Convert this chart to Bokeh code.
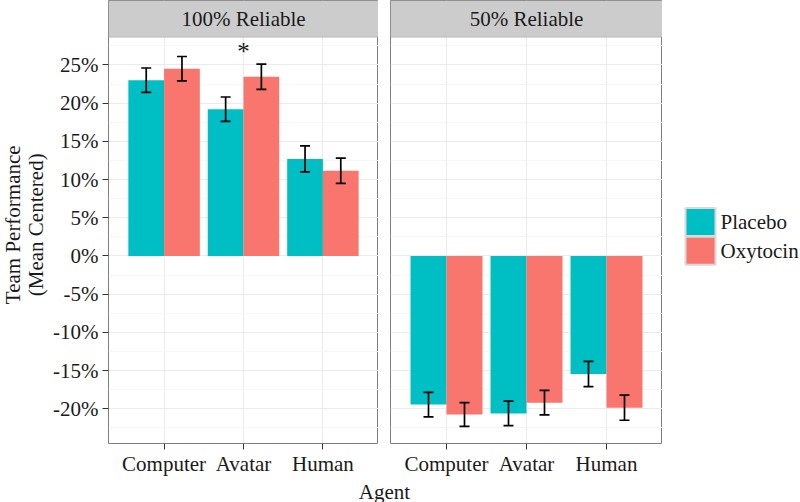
import math
from bokeh.plotting import figure
from bokeh.models import (FactorRange, Range1d, FixedTicker, Whisker, TeeHead,
                          ColumnDataSource, BoxAnnotation, Label)
from bokeh.transform import dodge
from bokeh.layouts import row, column
from bokeh.embed import file_html
from bokeh.resources import INLINE
from bokeh.core.properties import value

# ---------------- data ----------------
agents = ["Computer", "Avatar", "Human"]
facets = ["100% Reliable", "50% Reliable"]
groups = ["Placebo", "Oxytocin"]

placebo_100 = [23.0, 19.2, 12.7]
placebo_100_se = [1.6, 1.6, 1.7]
oxytocin_100 = [24.5, 23.45, 11.15]
oxytocin_100_se = [1.6, 1.65, 1.65]

placebo_50 = [-19.45, -20.6, -15.45]
placebo_50_se = [1.6, 1.6, 1.65]
oxytocin_50 = [-20.75, -19.2, -19.85]
oxytocin_50_se = [1.55, 1.6, 1.65]

y_ticks = [-20, -15, -10, -5, 0, 5, 10, 15, 20, 25]
y_tick_labels = ["-20%", "-15%", "-10%", "-5%", "0%", "5%", "10%", "15%", "20%", "25%"]
sig_agents = ["Avatar"]
sig_labels = ["*"]
y_title_lines = ["Team Performance", "(Mean Centered)"]
x_title = "Agent"

# ---------------- style / layout ----------------
TEAL = "#00BFC4"
SALMON = "#F8766D"
group_colors = [TEAL, SALMON]
FONT = "Liberation Serif"
FS = "21px"
TXT = "#1A1A1A"
BORDER = "#7F7F7F"
Y_LO, Y_HI, STRIP_BOTTOM = -24.54, 33.43, 28.63
FIG_H = 478
FRAME_H = 447
FRAME_W = 272
YLAB_W = 50
LEFT_B = 106 - YLAB_W
GAP = 12
LEG_W = 138

y_range = Range1d(Y_LO, Y_HI)
y_minor = [y_ticks[0] - 2.5] + [t + 2.5 for t in y_ticks]


def plain_fig(w, h):
    f = figure(width=w, height=h, x_range=Range1d(0, w), y_range=Range1d(0, h),
               toolbar_location=None, output_backend="svg",
               min_border_left=0, min_border_right=0, min_border_top=0, min_border_bottom=0)
    f.axis.visible = False
    f.grid.visible = False
    f.outline_line_color = None
    return f


def make_panel(title, plac, plac_se, oxy, oxy_se, first, sig=False):
    x_range = FactorRange(*agents, range_padding=0.2, range_padding_units="absolute")
    mbl = LEFT_B if first else GAP
    p = figure(width=mbl + FRAME_W, height=FIG_H, x_range=x_range, y_range=y_range,
               toolbar_location=None, output_backend="svg",
               min_border_left=mbl, min_border_right=0,
               min_border_top=0, min_border_bottom=FIG_H - FRAME_H)
    src = ColumnDataSource(dict(
        agent=agents, placebo=plac, oxy=oxy,
        p_up=[v + e for v, e in zip(plac, plac_se)],
        p_lo=[v - e for v, e in zip(plac, plac_se)],
        o_up=[v + e for v, e in zip(oxy, oxy_se)],
        o_lo=[v - e for v, e in zip(oxy, oxy_se)],
    ))
    p.vbar(x=dodge("agent", -0.225, range=p.x_range), top="placebo", bottom=0,
           width=0.45, fill_color=TEAL, line_color=None, source=src)
    p.vbar(x=dodge("agent", 0.225, range=p.x_range), top="oxy", bottom=0,
           width=0.45, fill_color=SALMON, line_color=None, source=src)
    for off, up, lo in [(-0.225, "p_up", "p_lo"), (0.225, "o_up", "o_lo")]:
        w = Whisker(source=src, base=dodge("agent", off, range=p.x_range),
                    upper=up, lower=lo, line_color="black", line_width=1.7,
                    level="overlay",
                    upper_head=TeeHead(size=10, line_color="black", line_width=1.7),
                    lower_head=TeeHead(size=10, line_color="black", line_width=1.7))
        p.add_layout(w)

    if sig:
        sy = []
        for a in sig_agents:
            i = agents.index(a)
            sy.append(max(src.data["p_up"][i], src.data["o_up"][i]) + 1.6)
        p.text(x=sig_agents, y=sy, text=sig_labels, text_align="center",
               text_baseline="alphabetic", text_font=value(FONT),
               text_font_size="25px", text_color=TXT)

    # facet strip
    p.add_layout(BoxAnnotation(bottom=STRIP_BOTTOM, fill_color="#CCCCCC", fill_alpha=1,
                               line_color=BORDER, line_width=1, level="overlay"))
    p.add_layout(Label(x=1.5, y=(STRIP_BOTTOM + Y_HI) / 2, text=title,
                       text_align="center", text_baseline="middle", level="overlay",
                       text_font=FONT, text_font_size=FS, text_color=TXT))

    ticker = FixedTicker(ticks=y_ticks, minor_ticks=y_minor)
    p.yaxis.ticker = ticker
    p.ygrid.ticker = ticker
    p.yaxis.major_label_overrides = {t: l for t, l in zip(y_ticks, y_tick_labels)}

    p.outline_line_color = BORDER
    p.outline_line_width = 1
    p.background_fill_color = "white"
    p.xgrid.grid_line_color = "#EBEBEB"
    p.ygrid.grid_line_color = "#EBEBEB"
    p.ygrid.minor_grid_line_color = "#F6F6F6"

    for ax in (p.xaxis, p.yaxis):
        ax.axis_line_color = None
        ax.major_tick_line_color = "#333333"
        ax.major_tick_out = 6
        ax.major_tick_in = 0
        ax.minor_tick_line_color = None
        ax.major_label_text_font = FONT
        ax.major_label_text_font_size = FS
        ax.major_label_text_color = TXT
    p.yaxis.major_label_standoff = 4
    p.xaxis.major_label_standoff = 2
    if not first:
        p.yaxis.visible = False
    return p


p1 = make_panel(facets[0], placebo_100, placebo_100_se, oxytocin_100, oxytocin_100_se,
                True, sig=True)
p2 = make_panel(facets[1], placebo_50, placebo_50_se, oxytocin_50, oxytocin_50_se, False)

# y-axis title (two lines)
ylab = plain_fig(YLAB_W, FIG_H)
for xpos, line in zip([12.5, 35], y_title_lines):
    ylab.add_layout(Label(x=xpos, y=FIG_H - (37 + FRAME_H) / 2, text=line,
                          angle=math.pi / 2, text_align="center", text_baseline="middle",
                          text_font=FONT, text_font_size=FS, text_color=TXT))

# legend (keys + labels)
leg = plain_fig(LEG_W, FIG_H)
key_top = [254, 223]
key_bottom = [224, 193]
leg.quad(left=23, right=53, top=key_top, bottom=key_bottom, fill_color=group_colors,
         line_color="#D9D9D9", line_width=2)
leg.text(x=58, y=[(t + b) / 2 for t, b in zip(key_top, key_bottom)], text=groups,
         text_align="left", text_baseline="middle", text_font=value(FONT),
         text_font_size=FS, text_color=TXT)

TOTAL_W = YLAB_W + p1.width + p2.width + LEG_W
LAB_H = 502 - FIG_H
lab = plain_fig(TOTAL_W, LAB_H)
lab.add_layout(Label(x=(106 + 662) / 2, y=LAB_H / 2 - 1, text=x_title,
                     text_align="center", text_baseline="middle",
                     text_font=FONT, text_font_size=FS, text_color=TXT))

layout = column(row(ylab, p1, p2, leg), lab)
open("out.html", "w").write(file_html(layout, INLINE))
